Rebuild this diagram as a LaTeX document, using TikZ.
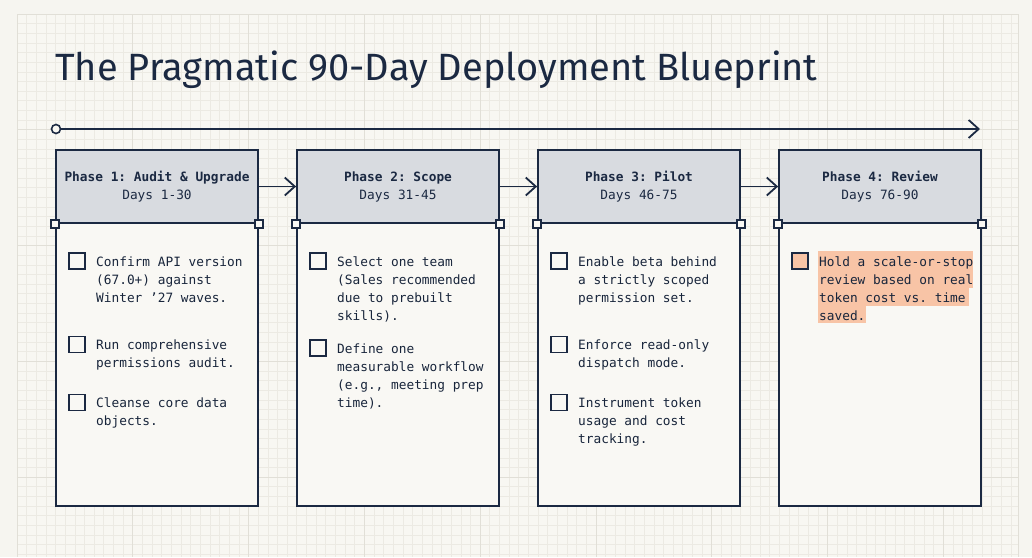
\documentclass[tikz,border=0pt]{standalone}
\usepackage{fontspec}
\setmonofont{DejaVu Sans Mono}
\newfontfamily\titlefont{Fira Sans}
\usetikzlibrary{arrows.meta}
\definecolor{navy}{HTML}{1B2942}
\definecolor{pagebg}{HTML}{F6F5F0}
\definecolor{gridbg}{HTML}{F8F7F2}
\definecolor{minorc}{HTML}{ECEAE3}
\definecolor{majorc}{HTML}{E1DFD7}
\definecolor{headfill}{HTML}{D8DBE0}
\definecolor{bodyfill}{HTML}{F9F8F4}
\definecolor{hilite}{HTML}{F8C4A6}
\tikzset{
  edge/.style={draw=navy, line width=1.8pt},
  head/.style={edge, fill=headfill, minimum width=202pt, minimum height=73pt, inner sep=0pt},
  body/.style={edge, fill=bodyfill, minimum width=202pt, minimum height=283pt, inner sep=0pt},
  htext/.style={font=\ttfamily\fontsize{12.8}{17.6}\selectfont, text=navy, align=center, inner sep=0pt, anchor=base},
  itext/.style={font=\ttfamily\fontsize{12.8}{18}\selectfont, text=navy!90!black, align=left, inner sep=0pt, anchor=base west},
  cbox/.style={draw=navy, line width=1.4pt, minimum size=16pt, inner sep=0pt},
  corner/.style={draw=navy, line width=1.3pt, fill=bodyfill, minimum size=8pt, inner sep=0pt},
  conn/.style={draw=navy, line width=1.8pt, -{Straight Barb[length=10pt,width=18pt,line width=1.8pt]}},
}
\begin{document}
\begin{tikzpicture}[x=1pt,y=-1pt]
\fill[pagebg] (0,0) rectangle (1032,557);
\useasboundingbox (0,0) rectangle (1032,557);
% grid
\fill[gridbg] (17,14) rectangle (1018.5,557);
\foreach \i in {0,...,103} \draw[minorc, line width=0.8pt] ({17+\i*9.65},14) -- ({17+\i*9.65},557);
\foreach \j in {0,...,56} \draw[minorc, line width=0.8pt] (17,{14+\j*9.65}) -- (1018.5,{14+\j*9.65});
\foreach \i in {0,12,...,103} \draw[majorc, line width=1pt] ({17+\i*9.65},14) -- ({17+\i*9.65},557);
\foreach \j in {0,12,...,56} \draw[majorc, line width=1pt] (17,{14+\j*9.65}) -- (1018.5,{14+\j*9.65});
\draw[majorc, line width=1pt] (1018.5,14) -- (1018.5,557);
% title
\node[font=\titlefont\fontsize{38}{40}\selectfont, text=navy, anchor=base west, inner sep=0pt] (title) at (55,80) {The Pragmatic 90-Day Deployment Blueprint};
% timeline
\node[circle, draw=navy, line width=1.6pt, fill=gridbg, minimum size=9pt, inner sep=0pt] (tl0) at (56,129) {};
\coordinate (tl1) at (980,129);
\draw[conn] (tl0) -- (tl1);
% bodies
\node[body] (b1) at (157,364.5) {};
\node[body] (b2) at (398,364.5) {};
\node[body] (b3) at (639,364.5) {};
\node[body] (b4) at (880,364.5) {};
% headers
\node[head] (h1) at (157,186.5) {};
\node[head] (h2) at (398,186.5) {};
\node[head] (h3) at (639,186.5) {};
\node[head] (h4) at (880,186.5) {};
\node[htext] (t1) at (157,199.3) {\textbf{Phase 1: Audit \& Upgrade}\\Days 1-30};
\node[htext] (t2) at (398,199.3) {\textbf{Phase 2: Scope}\\Days 31-45};
\node[htext] (t3) at (639,199.3) {\textbf{Phase 3: Pilot}\\Days 46-75};
\node[htext] (t4) at (880,199.3) {\textbf{Phase 4: Review}\\Days 76-90};
% corner squares
\node[corner] (k1a) at (h1.south west) {};
\node[corner] (k1b) at (h1.south east) {};
\node[corner] (k2a) at (h2.south west) {};
\node[corner] (k2b) at (h2.south east) {};
\node[corner] (k3a) at (h3.south west) {};
\node[corner] (k3b) at (h3.south east) {};
\node[corner] (k4a) at (h4.south west) {};
\node[corner] (k4b) at (h4.south east) {};
% connectors
\draw[conn] (h1.east) -- (h2.west);
\draw[conn] (h2.east) -- (h3.west);
\draw[conn] (h3.east) -- (h4.west);
% phase 1 items (anchor = baseline of last line)
\node[cbox] (c11) at (77,261) {};
\node[itext] (i11) at (96,302) {Confirm API version\\(67.0+) against\\Winter ’27 waves.};
\node[cbox] (c12) at (77,344.5) {};
\node[itext] (i12) at (96,367.5) {Run comprehensive\\permissions audit.};
\node[cbox] (c13) at (77,402.5) {};
\node[itext] (i13) at (96,425.5) {Cleanse core data\\objects.};
% phase 2 items
\node[cbox] (c21) at (318,261) {};
\node[itext] (i21) at (337,320) {Select one team\\(Sales recommended\\due to prebuilt\\skills).};
\node[cbox] (c22) at (318,348) {};
\node[itext] (i22) at (337,407) {Define one\\measurable workflow\\(e.g., meeting prep\\time).};
% phase 3 items
\node[cbox] (c31) at (559,261) {};
\node[itext] (i31) at (578,302) {Enable beta behind\\a strictly scoped\\permission set.};
\node[cbox] (c32) at (559,344.5) {};
\node[itext] (i32) at (578,367.5) {Enforce read-only\\dispatch mode.};
\node[cbox] (c33) at (559,402.5) {};
\node[itext] (i33) at (578,443.5) {Instrument token\\usage and cost\\tracking.};
% phase 4 item (highlighted)
\fill[hilite] (817.5,251) rectangle (973,288);
\fill[hilite] (817.5,287) rectangle (969,306);
\fill[hilite] (817.5,305) rectangle (866,323);
\node[cbox, fill=hilite] (c41) at (800,261) {};
\node[itext] (i41) at (819,320) {Hold a scale-or-stop\\review based on real\\token cost vs. time\\saved.};
\end{tikzpicture}
\end{document}
